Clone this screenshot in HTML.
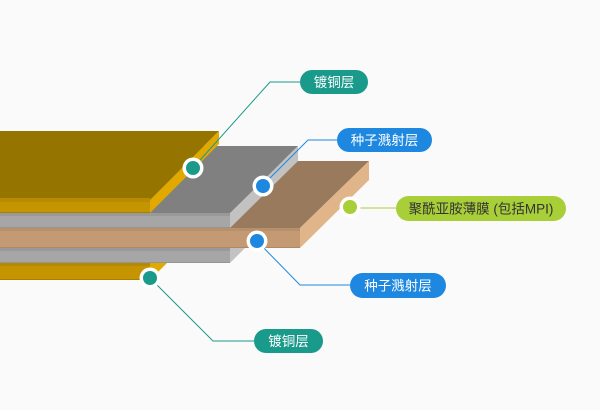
<!DOCTYPE html>
<html><head><meta charset="utf-8"><style>
html,body{margin:0;padding:0;background:#fafafa;}
svg{display:block;}
text{font-family:"Liberation Sans","Noto Sans CJK SC",sans-serif;font-size:13.5px;}
</style></head><body>
<svg width="600" height="410" viewBox="0 0 600 410" xmlns="http://www.w3.org/2000/svg">
<rect width="600" height="410" fill="#fafafa"/>
<!-- bottom copper -->
<polygon points="0,195 218,195 150,263 0,263" fill="#967400"/>
<polygon points="150,263 218,195 218,212 150,280" fill="#e1a900"/>
<rect x="0" y="263" width="150" height="17" fill="#c49500"/>
<rect x="0" y="263" width="150" height="3" fill="#b68a00"/>
<rect x="0" y="279" width="150" height="1" fill="#a88000"/>
<!-- bottom gray -->
<polygon points="0,180 298,180 230,248 0,248" fill="#808080"/>
<polygon points="230,248 298,180 298,195 230,263" fill="#c2c2c2"/>
<rect x="0" y="248" width="230" height="15" fill="#a6a6a6"/>
<rect x="0" y="248" width="230" height="3" fill="#999999"/>
<rect x="0" y="262" width="230" height="1" fill="#959595"/>
<!-- tan polyimide -->
<polygon points="0,161 369,161 300,228 0,228" fill="#9a7a5c"/>
<polygon points="300,228 369,161 369,180 300,248" fill="#e0b58a"/>
<rect x="0" y="228" width="300" height="20" fill="#c49a74"/>
<rect x="0" y="228" width="300" height="3" fill="#b8906b"/>
<rect x="0" y="247" width="300" height="1" fill="#b08864"/>
<!-- top gray -->
<polygon points="0,146 298,146 230,213 0,213" fill="#808080"/>
<polygon points="230,213 298,146 298,161 230,228" fill="#c2c2c2"/>
<rect x="0" y="213" width="230" height="15" fill="#a6a6a6"/>
<rect x="0" y="213" width="230" height="3" fill="#999999"/>
<rect x="0" y="227" width="230" height="1" fill="#959595"/>
<!-- top copper -->
<polygon points="0,131 219,131 150,200 0,200" fill="#967400"/>
<polygon points="150,200 219,131 219,144 150,213" fill="#e1a900"/>
<rect x="0" y="198" width="150" height="15" fill="#c49500"/>
<rect x="0" y="198" width="150" height="4" fill="#b88b00"/>
<rect x="0" y="212" width="150" height="1" fill="#a88000"/>
<!-- connector lines -->
<polyline points="193,168 270,82 300,82" fill="none" stroke="#1a9a8a" stroke-width="1"/>
<polyline points="263,185 308,140 337,140" fill="none" stroke="#1e88e0" stroke-width="1"/>
<polyline points="350,208 396,208" fill="none" stroke="#a8cf38" stroke-width="1"/>
<polyline points="257,241 300,285 350,285" fill="none" stroke="#1e88e0" stroke-width="1"/>
<polyline points="150,278 213,341 254,341" fill="none" stroke="#1a9a8a" stroke-width="1"/>
<!-- dots -->
<circle cx="193" cy="168" r="10.5" fill="#fff"/><circle cx="193" cy="168" r="7" fill="#1a9a8a"/>
<circle cx="263" cy="186" r="10.5" fill="#fff"/><circle cx="263" cy="186" r="7" fill="#1e88e0"/>
<circle cx="350" cy="207" r="10.5" fill="#fff"/><circle cx="350" cy="207" r="7" fill="#a8cf38"/>
<circle cx="257" cy="241" r="10.5" fill="#fff"/><circle cx="257" cy="241" r="7" fill="#1e88e0"/>
<circle cx="150" cy="278" r="10.5" fill="#fff"/><circle cx="150" cy="278" r="7" fill="#1a9a8a"/>
<!-- pills -->
<rect x="300" y="70" width="68" height="24" rx="12" fill="#1a9a8a"/>
<text x="334" y="87" fill="#fff" text-anchor="middle">镀铜层</text>
<rect x="337" y="128" width="95" height="24" rx="12" fill="#1e88e0"/>
<text x="384.5" y="145" fill="#fff" text-anchor="middle">种子溅射层</text>
<rect x="396" y="196" width="170" height="25" rx="12.5" fill="#a8cf38"/>
<text x="481" y="213.5" fill="#333" text-anchor="middle" font-size="13">聚酰亚胺薄膜 (包括MPI)</text>
<rect x="350" y="273" width="96" height="25" rx="12.5" fill="#1e88e0"/>
<text x="398" y="290.5" fill="#fff" text-anchor="middle">种子溅射层</text>
<rect x="254" y="329" width="69" height="24" rx="12" fill="#1a9a8a"/>
<text x="288.5" y="346" fill="#fff" text-anchor="middle">镀铜层</text>
</svg>
</body></html>
